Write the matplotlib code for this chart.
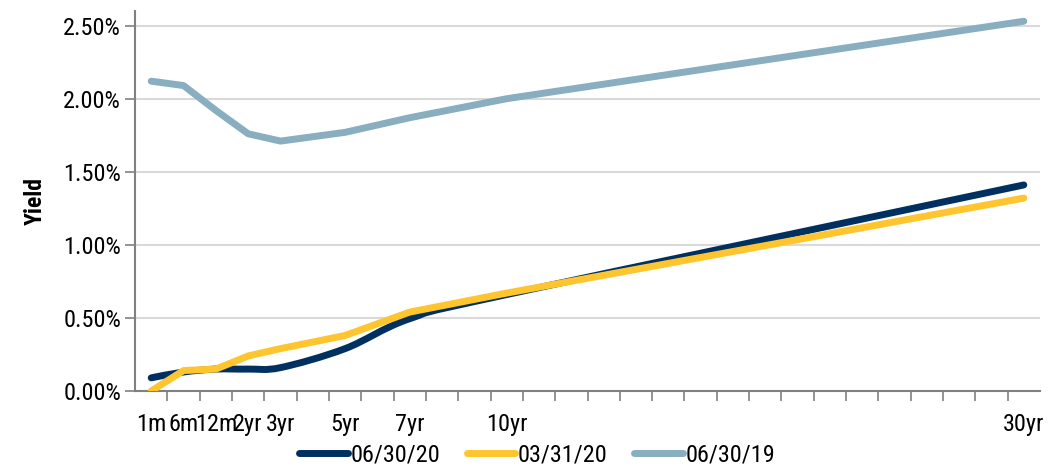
import matplotlib
matplotlib.use("Agg")
import matplotlib.pyplot as plt
import numpy as np
from matplotlib.path import Path
from matplotlib.patches import PathPatch
from matplotlib.lines import Line2D
from matplotlib.ticker import FixedLocator, FuncFormatter

# category axis: only some slots carry a tenor label, the rest are empty slots
categories = ['1m', '6m', '12m', '2yr', '3yr', '', '5yr', '', '7yr', '', '', '10yr',
              '', '', '', '', '', '', '', '', '', '', '', '', '', '', '', '30yr']
nan = np.nan
# yields in percent, nan where the slot has no value
y_063020 = [0.09, 0.13, 0.15, 0.15, 0.16, nan, 0.29, nan, 0.495, nan, nan, 0.66,
            nan, nan, nan, nan, nan, nan, nan, nan, nan, nan, nan, nan, nan, nan, nan, 1.41]
y_033120 = [0.00, 0.14, 0.15, 0.24, 0.29, nan, 0.38, nan, 0.54, nan, nan, 0.67,
            nan, nan, nan, nan, nan, nan, nan, nan, nan, nan, nan, nan, nan, nan, nan, 1.32]
y_063019 = [2.12, 2.09, 1.92, 1.76, 1.71, nan, 1.77, nan, 1.87, nan, nan, 2.00,
            nan, nan, nan, nan, nan, nan, nan, nan, nan, nan, nan, nan, nan, nan, nan, 2.53]

series_names = ['06/30/20', '03/31/20', '06/30/19']
colors = ['#00305F', '#FFC52E', '#88AEC0']

plt.rcParams['font.family'] = ['Roboto Condensed', 'DejaVu Sans']

fig = plt.figure(figsize=(10.51, 4.69), dpi=100)
ax = fig.add_axes([0.1285, 0.1663, 0.861, 0.8102])

x_all = np.arange(len(categories))


def points(vals):
    v = np.array(vals, dtype=float)
    m = ~np.isnan(v)
    return x_all[m].astype(float), v[m]


def smooth_path(xs, ys):
    # cubic bezier through each point (catmull-rom style tangents)
    pts = np.column_stack([xs, ys])
    verts = [pts[0]]
    codes = [Path.MOVETO]
    n = len(pts)
    for i in range(n - 1):
        p0 = pts[i - 1] if i > 0 else pts[i]
        p1 = pts[i]
        p2 = pts[i + 1]
        p3 = pts[i + 2] if i + 2 < n else pts[i + 1]
        c1 = p1 + (p2 - p0) / 6.0
        c2 = p2 - (p3 - p1) / 6.0
        verts += [c1, c2, p2]
        codes += [Path.CURVE4] * 3
    return Path(verts, codes)


lw = 5

# smoothed line for the latest curve
xs, ys = points(y_063020)
ax.add_patch(PathPatch(smooth_path(xs, ys), fill=False, edgecolor=colors[0],
                       lw=lw, capstyle='round', joinstyle='round', zorder=3))

xs, ys = points(y_033120)
ax.plot(xs, ys, color=colors[1], lw=lw, solid_capstyle='round',
        solid_joinstyle='round', zorder=4)

xs, ys = points(y_063019)
ax.plot(xs, ys, color=colors[2], lw=lw, solid_capstyle='round',
        solid_joinstyle='round', zorder=3)

ax.set_xlim(-0.5, len(categories) - 0.5)
ax.set_ylim(0, 2.6)

ax.set_yticks(np.arange(0, 2.51, 0.5))
ax.yaxis.set_major_formatter(FuncFormatter(lambda v, p: f'{v:.2f}%'))
ax.grid(axis='y', color='#D9D9D9', lw=1.5, zorder=0)
ax.set_axisbelow(True)

ax.set_xticks(x_all)
ax.set_xticklabels(categories)
ax.xaxis.set_minor_locator(FixedLocator(np.arange(0.5, len(categories) - 0.5, 1)))
ax.tick_params(axis='x', which='major', length=0, pad=16, labelsize=17.5, colors='#000000')
ax.tick_params(axis='x', which='minor', length=7, width=1.2, color='#808080', direction='out')
ax.tick_params(axis='y', length=7, width=1.2, color='#808080', labelsize=17.5, pad=3)

for s in ['top', 'right']:
    ax.spines[s].set_visible(False)
for s in ['left', 'bottom']:
    ax.spines[s].set_color('#808080')
    ax.spines[s].set_linewidth(1.5)

ax.set_ylabel('Yield', fontsize=17, fontweight='bold', labelpad=12)

handles = [Line2D([], [], color=c, lw=lw, solid_capstyle='round') for c in colors]
fig.legend(handles, series_names, loc='center', bbox_to_anchor=(0.511, 0.029),
           ncol=3, frameon=False, fontsize=17.5, handlelength=2.0,
           handletextpad=0.1, columnspacing=1.1)

fig.savefig('out.png', dpi=100)
